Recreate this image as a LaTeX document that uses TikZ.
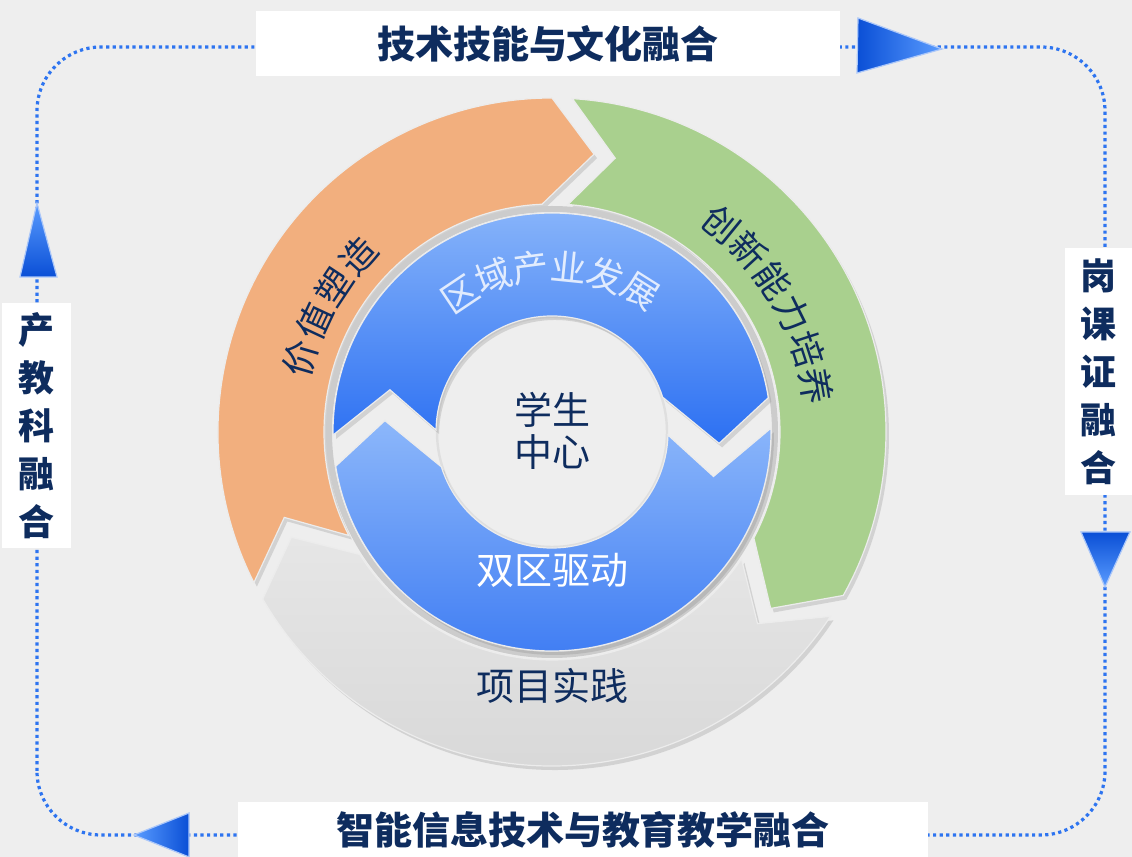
\documentclass[tikz,border=0pt]{standalone}
\usepackage{fontspec}
\setmainfont{Noto Sans CJK SC}
\usetikzlibrary{positioning,shadows,calc}

\definecolor{navy}{HTML}{0E2C5E}
\definecolor{dotblue}{HTML}{2D74F0}
\definecolor{orangeseg}{HTML}{F2AF7E}
\definecolor{greenseg}{HTML}{A9D08E}
\definecolor{grayseg}{HTML}{D6D6D6}
\definecolor{graylight}{HTML}{E6E6E6}
\definecolor{bluelight}{HTML}{86B3FA}
\definecolor{bluedark}{HTML}{2C70F2}
\definecolor{bgcol}{HTML}{EEEEEE}
\definecolor{tridark}{HTML}{0A4FD6}
\definecolor{trilight}{HTML}{5A9CFF}

% one band of the ring: tail (out, in, notch), head (out, in, tip), radii, style
\newcommand{\ringarrow}[9]{%
  \path[#9] (#1:#8) arc[start angle=#1, end angle=#4, radius=#8]
    -- (#6:{(#7+#8)/2}) -- (#5:#7)
    arc[start angle=#5, end angle=#2, radius=#7]
    -- (#3:{(#7+#8)/2}) -- cycle;}

\begin{document}
\begin{tikzpicture}[x=0.5pt,y=0.5pt]
  \tikzset{namebox/.style={fill=white, inner sep=0pt, text=navy, font=\bfseries\fontsize{19}{22}\selectfont},
    sidebox/.style={namebox, align=center, font=\bfseries\fontsize{18}{24}\selectfont},
    dotline/.style={dotblue, line width=1.6pt, dash pattern=on 1.6pt off 1.7pt},
    tri/.style={draw=white!60!dotblue, line width=0.6pt},
    seg/.style={draw=white!85!gray, line width=0.6pt,
      drop shadow={shadow xshift=1.5pt, shadow yshift=-2pt, opacity=0.25}},
    ringtxt/.style={inner sep=0pt, text=navy, font=\fontsize{18}{20}\selectfont},
    plaintxt/.style={inner sep=0pt, font=\fontsize{19}{21}\selectfont}}
  \useasboundingbox (0,0) rectangle (1132,857);
  \fill[bgcol] (0,0) rectangle (1132,857);

%% frame
  \draw[dotline, rounded corners=32pt] (37,22) rectangle (1105,810);

  \node[namebox, minimum width=292pt, minimum height=32.5pt] (topbox) at (548,813.5) {技术技能与文化融合};
  \node[namebox, minimum width=345pt, minimum height=27.5pt] (botbox) at (583,27.5) {智能信息技术与教育教学融合};
  \node[sidebox, minimum width=34.5pt, minimum height=122.5pt] (leftbox) at (36.5,431.5) {产\\教\\科\\融\\合};
  \node[sidebox, minimum width=33.5pt, minimum height=123.5pt] (rightbox) at (1098.5,485.5) {岗\\课\\证\\融\\合};

  \shade[tri, left color=tridark, right color=trilight] (858,839) -- (942,808) -- (857,784) -- cycle;
  \shade[tri, top color=tridark, bottom color=trilight] (1081,325) -- (1130,325) -- (1105,270) -- cycle;
  \shade[tri, right color=tridark, left color=trilight] (189,44) -- (189,0) -- (134,22) -- cycle;
  \shade[tri, bottom color=tridark, top color=trilight] (20,580) -- (57,580) -- (37,654) -- cycle;

%% rings
  \begin{scope}[shift={(552,425)}]
    \ringarrow{206.8}{207}{197.7}{90}{92.5}{81.4}{228}{334}{seg, fill=orangeseg}
    \ringarrow{86.5}{86}{77}{-29.3}{-27.7}{-38.9}{228}{334}{seg, fill=greenseg}
    \ringarrow{-33.5}{-33.8}{-43}{-150}{-147.5}{-158}{228}{334}{seg, top color=graylight, bottom color=grayseg}
    \draw[line width=3pt, gray!40] (0,0) circle[radius=223];
    \draw[line width=1.2pt, gray!25] (0,0) circle[radius=115];
    \ringarrow{180.8}{179}{165.4}{9}{17.5}{-3.9}{116}{219}{seg, top color=bluelight, bottom color=bluedark}
    \ringarrow{1}{-1.5}{-15.4}{-171}{-162.5}{-183.9}{116}{219}{seg, top color=bluelight!95!white, bottom color=bluedark!90!white}

    \foreach \ch [count=\i] in {价,值,塑,造}
      {\pgfmathsetmacro\ang{163.6-(\i-1)*8.6}
       \node[ringtxt, rotate=\ang-90] (val\i) at (\ang:262) {\ch};}
    \foreach \ch [count=\i] in {创,新,能,力,培,养}
      {\pgfmathsetmacro\ang{50.8-(\i-1)*8.2}
       \node[ringtxt, rotate=\ang-90] (inno\i) at (\ang:268) {\ch};}
    \foreach \ch [count=\i] in {区,域,产,业,发,展}
      {\pgfmathsetmacro\ang{123.8-(\i-1)*13.2}
       \node[ringtxt, text=white, text opacity=0.8, rotate=\ang-90] (reg\i) at (\ang:166) {\ch};}

    \node[plaintxt, text=navy, align=center] (core) at (0,1) {学生\\中心};
    \node[plaintxt, text=white] (drive) at (0,-138) {双区驱动};
    \node[plaintxt, text=navy] (proj) at (0,-254) {项目实践};
  \end{scope}
\end{tikzpicture}
\end{document}
